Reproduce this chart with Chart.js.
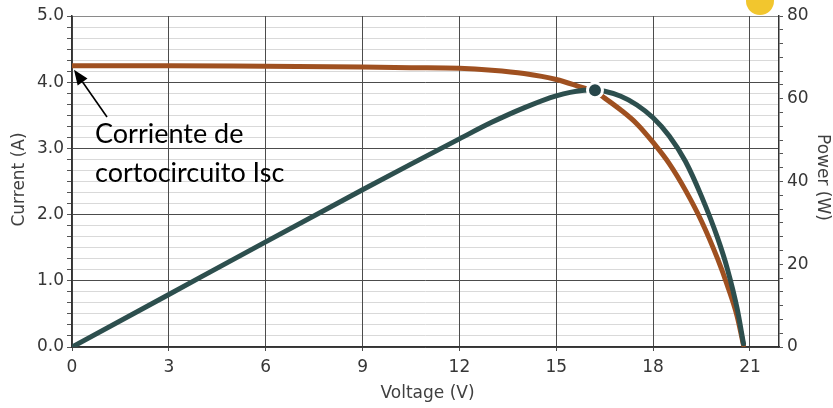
<!DOCTYPE html>
<html>
<head>
<meta charset="utf-8">
<script src="https://cdn.jsdelivr.net/npm/chart.js@4.4.1/dist/chart.umd.min.js"></script>
<style>
  html, body { margin: 0; padding: 0; background: #ffffff; }
  #wrap { width: 833px; height: 408px; }
</style>
</head>
<body>
<div id="wrap"><canvas id="chart" width="833" height="408"></canvas></div>
<script>
// Panel I-V and P-V curves
const voltage = [0, 3, 6, 9, 10.5, 12, 13, 14, 15, 15.8, 16.2, 16.5, 17, 17.5, 18, 18.5, 19, 19.5, 20, 20.3, 20.6, 20.8];
const current = [4.25, 4.25, 4.24, 4.23, 4.22, 4.21, 4.18, 4.13, 4.04, 3.92, 3.86, 3.76, 3.58, 3.37, 3.09, 2.77, 2.37, 1.90, 1.33, 0.93, 0.47, 0.03];
const power   = [0, 12.7, 25.4, 38.0, 44.2, 50.3, 54.3, 57.8, 60.7, 62.0, 62.1, 61.8, 60.6, 58.5, 55.4, 51.0, 44.9, 36.4, 26.3, 18.9, 9.4, 0.8];

// Maximum power point
const mppVoltage = [16.2];
const mppCurrent = [3.88];

// Axis tick values
const voltageTicks = [0, 3, 6, 9, 12, 15, 18, 21];
const currentTicks = [0, 1, 2, 3, 4, 5];
const powerTicks = [0, 20, 40, 60, 80];

const annotationLines = ['Corriente de', 'cortocircuito Isc'];
const axisTitles = { x: 'Voltage (V)', current: 'Current (A)', power: 'Power (W)' };

const ORANGE = '#9f5020';
const TEAL = '#2d4f4e';
const MAJOR = '#4c4c4c';
const MINOR = '#d9d9d9';
const TEXT = '#363636';
const tickFont = { family: 'DejaVu Sans', size: 17 };

// six subdivisions between labelled ticks
function subdivide(ticks, parts) {
  const out = [];
  for (let i = 0; i < ticks.length - 1; i++) {
    const a = ticks[i], b = ticks[i + 1];
    for (let k = 0; k < parts; k++) out.push(a + (b - a) * k / parts);
  }
  out.push(ticks[ticks.length - 1]);
  return out;
}
const currentMinor = subdivide(currentTicks, 6);
const powerMinor = subdivide(powerTicks, 6);
const isOn = (v, list) => list.some(t => Math.abs(t - v) < 1e-6);

const pts = (xs, ys) => xs.map((x, i) => ({ x, y: ys[i] }));

const decorations = {
  id: 'decorations',
  beforeDraw(chart) {
    const ctx = chart.ctx;
    ctx.save();
    ctx.fillStyle = '#f2c62e';
    ctx.beginPath();
    ctx.arc(760, 1, 14, 0, Math.PI * 2);
    ctx.fill();
    ctx.restore();
  },
  afterDraw(chart) {
    const ctx = chart.ctx;
    const a = chart.chartArea;
    ctx.save();
    // axis titles
    ctx.fillStyle = '#404040';
    ctx.font = '17px "DejaVu Sans"';
    ctx.textAlign = 'center';
    ctx.textBaseline = 'alphabetic';
    ctx.fillText(axisTitles.x, (a.left + a.right) / 2 + 2, 398);
    ctx.textBaseline = 'middle';
    ctx.save();
    ctx.translate(20, (a.top + a.bottom) / 2 - 2);
    ctx.rotate(-Math.PI / 2);
    ctx.fillText(axisTitles.current, 0, 0);
    ctx.restore();
    ctx.save();
    ctx.translate(822, (a.top + a.bottom) / 2 - 4);
    ctx.rotate(Math.PI / 2);
    ctx.fillText(axisTitles.power, 0, 0);
    ctx.restore();

    // arrow pointing at the short-circuit current
    const xs = chart.scales.x, ys = chart.scales.yI;
    const tipX = xs.getPixelForValue(voltage[0]) + 2;
    const tipY = ys.getPixelForValue(current[0]) + 4;
    const tailX = 107, tailY = 117;
    const ang = Math.atan2(tipY - tailY, tipX - tailX);
    const headLen = 15, headW = 6;
    const bx = tipX - headLen * Math.cos(ang), by = tipY - headLen * Math.sin(ang);
    ctx.strokeStyle = '#000';
    ctx.lineWidth = 1.6;
    ctx.beginPath();
    ctx.moveTo(tailX, tailY);
    ctx.lineTo(bx, by);
    ctx.stroke();
    ctx.fillStyle = '#000';
    ctx.beginPath();
    ctx.moveTo(tipX, tipY);
    ctx.lineTo(bx + headW * Math.sin(ang), by - headW * Math.cos(ang));
    ctx.lineTo(bx - headW * Math.sin(ang), by + headW * Math.cos(ang));
    ctx.closePath();
    ctx.fill();

    ctx.font = '27px Lato';
    ctx.textAlign = 'left';
    ctx.textBaseline = 'alphabetic';
    ctx.fillText(annotationLines[0], 95, 143);
    ctx.fillText(annotationLines[1], 95, 182);
    ctx.restore();
  }
};

new Chart(document.getElementById('chart'), {
  type: 'line',
  data: {
    datasets: [
      {
        label: 'MPP',
        data: pts(mppVoltage, mppCurrent),
        yAxisID: 'yI',
        showLine: false,
        pointRadius: 7.5,
        pointBackgroundColor: '#27464a',
        pointBorderColor: '#ffffff',
        pointBorderWidth: 3
      },
      {
        label: 'Power',
        data: pts(voltage, power),
        yAxisID: 'yP',
        borderColor: TEAL,
        borderWidth: 5,
        pointRadius: 0,
        cubicInterpolationMode: 'monotone',
        borderCapStyle: 'round'
      },
      {
        label: 'Current',
        data: pts(voltage, current),
        yAxisID: 'yI',
        borderColor: ORANGE,
        borderWidth: 5,
        pointRadius: 0,
        cubicInterpolationMode: 'monotone',
        borderCapStyle: 'round'
      }
    ]
  },
  options: {
    responsive: false,
    animation: false,
    devicePixelRatio: 1,
    layout: { padding: { top: 16, left: 0, right: 0, bottom: 0 } },
    plugins: { legend: { display: false }, tooltip: { enabled: false } },
    scales: {
      x: {
        type: 'linear',
        min: 0,
        max: 21.9,
        afterBuildTicks: s => { s.ticks = voltageTicks.map(v => ({ value: v })); },
        afterFit: s => { s.height = 61; },
        grid: { color: MAJOR, lineWidth: 1, tickLength: 4, tickColor: MAJOR, z: -0.5 },
        border: { color: '#333', width: 1.5 },
        ticks: { font: tickFont, color: TEXT, padding: 6, autoSkip: false, maxRotation: 0,
                 callback: v => String(v) }
      },
      yI: {
        type: 'linear',
        position: 'left',
        min: 0,
        max: 5,
        afterBuildTicks: s => { s.ticks = currentMinor.map(v => ({ value: v })); },
        afterFit: s => { s.width = 72; },
        grid: {
          lineWidth: 1,
          tickLength: 5,
          z: -1,
          color: c => {
            const v = c.tick.value;
            if (Math.abs(v - 5) < 1e-6) return '#8a8a8a';
            return isOn(v, currentTicks) ? MAJOR : MINOR;
          },
          tickColor: '#555'
        },
        border: { color: '#333', width: 1.5 },
        ticks: { font: tickFont, color: TEXT, padding: 3, autoSkip: false,
                 callback: v => isOn(v, currentTicks) ? v.toFixed(1) : '' }
      },
      yP: {
        type: 'linear',
        position: 'right',
        min: 0,
        max: 80,
        afterBuildTicks: s => { s.ticks = powerMinor.map(v => ({ value: v })); },
        afterFit: s => { s.width = 54; },
        grid: { drawOnChartArea: false, tickLength: 4, tickColor: '#555', lineWidth: 1 },
        border: { color: '#333', width: 1.5 },
        ticks: { font: tickFont, color: TEXT, padding: 4, autoSkip: false,
                 callback: v => isOn(v, powerTicks) ? String(Math.round(v)) : '' }
      }
    }
  },
  plugins: [decorations]
});
</script>
</body>
</html>
